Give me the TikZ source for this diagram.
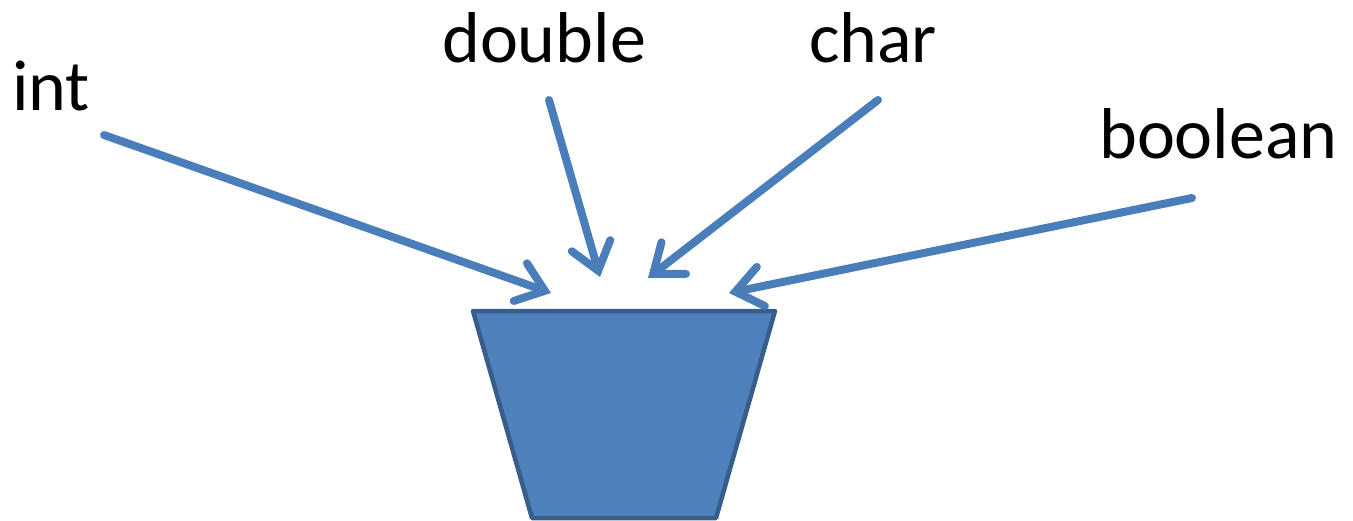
\documentclass[tikz,border=0pt]{standalone}
\usepackage{fontspec}
\setmainfont{Carlito}
\usetikzlibrary{arrows.meta}
\definecolor{arrowblue}{HTML}{4A7EBB}
\definecolor{bucketfill}{HTML}{4F81BD}
\definecolor{bucketline}{HTML}{385D8A}
\begin{document}
\begin{tikzpicture}[x=1pt,y=-1pt,
  lbl/.style={anchor=base west, inner sep=0pt, font=\fontsize{72}{86}\selectfont},
  feed/.style={draw=arrowblue, line width=8pt, line cap=round,
    -{Straight Barb[length=26pt, width=40pt, line cap=round, line join=miter]}}]
\useasboundingbox (0,0) rectangle (1353,520);
\node[lbl] (int) at (12,110) {int};
\node[lbl] (double) at (442,62) {double};
\node[lbl] (char) at (809,62) {char};
\node[lbl] (boolean) at (1099,158) {boolean};
\draw[fill=bucketfill, draw=bucketline, line width=4.5pt, line join=round]
  (473,311) -- (775,311) -- (716,518) -- (532,518) -- cycle;
\coordinate (s1) at (104,135); \coordinate (t1) at (551,293);
\coordinate (s2) at (549,100); \coordinate (t2) at (600,277);
\coordinate (s3) at (878,100); \coordinate (t3) at (648,278);
\coordinate (s4) at (1192,198); \coordinate (t4) at (729,293);
\draw[feed] (s1) -- (t1);
\draw[feed] (s2) -- (t2);
\draw[feed] (s3) -- (t3);
\draw[feed] (s4) -- (t4);
\end{tikzpicture}
\end{document}
